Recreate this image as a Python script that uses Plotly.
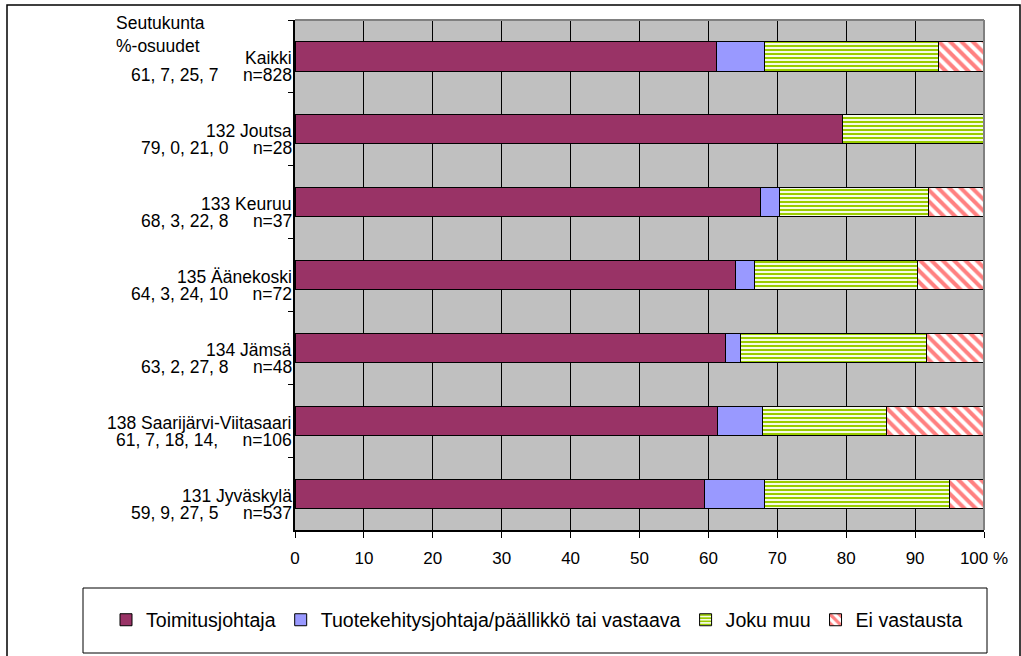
import plotly.graph_objects as go

# --- data -------------------------------------------------------------
categories = [
    "Kaikki",
    "132 Joutsa",
    "133 Keuruu",
    "135 Äänekoski",
    "134 Jämsä",
    "138 Saarijärvi-Viitasaari",
    "131 Jyväskylä",
]
pct_labels = [
    "61, 7, 25, 7",
    "79, 0, 21, 0",
    "68, 3, 22, 8",
    "64, 3, 24, 10",
    "63, 2, 27, 8",
    "61, 7, 18, 14,",
    "59, 9, 27, 5",
]
n_values = [828, 28, 37, 72, 48, 106, 537]

toimitusjohtaja = [61.2, 79.4, 67.6, 63.9, 62.5, 61.3, 59.4]
tuotekehitys = [7.0, 0.0, 2.7, 2.8, 2.1, 6.6, 8.8]
joku_muu = [25.2, 20.6, 21.6, 23.6, 27.1, 17.9, 26.8]
ei_vastausta = [6.6, 0.0, 8.1, 9.7, 8.3, 14.2, 5.0]

x_ticks = list(range(0, 101, 10))
x_ticktext = [str(v) for v in x_ticks[:-1]] + ["100 %"]

# --- geometry helpers (pixel -> paper) ---------------------------------
W, H = 1021, 656
L, R, T, B = 295, 984, 20, 530


def px(x):
    return (x - L) / (R - L)


def py(y):
    return (B - y) / (B - T)


FONT = "Arial, Liberation Sans, sans-serif"
NBSP = "\u00a0"
LABEL_SIZE = 17.5

fig = go.Figure()

series = [
    ("Toimitusjohtaja", toimitusjohtaja, dict(color="#993366")),
    ("Tuotekehitysjohtaja/päällikkö tai vastaava", tuotekehitys, dict(color="#9999FF")),
    ("Joku muu", joku_muu, dict(
        color="#99CC00",
        pattern=dict(shape="-", fgcolor="#99CC00", bgcolor="#FFFFFF",
                     size=4, solidity=0.55, fillmode="replace"),
    )),
    ("Ei vastausta", ei_vastausta, dict(
        color="#FF8080",
        pattern=dict(shape="\\", fgcolor="#FF8080", bgcolor="#FFFFFF",
                     size=8, solidity=0.5, fillmode="replace"),
    )),
]

for name, vals, mk in series:
    fig.add_trace(go.Bar(
        y=categories,
        x=vals,
        name=name,
        orientation="h",
        marker=dict(line=dict(color="black", width=1), **mk),
        hovertemplate="%{y}: %{x:.1f} %<extra>" + name + "</extra>",
    ))

# category labels (two lines, right aligned against the axis)
annotations = []
for cat, pct, n in zip(categories, pct_labels, n_values):
    annotations.append(dict(
        x=0, xref="paper", xanchor="right", xshift=-1,
        y=cat, yref="y", yanchor="middle", yshift=-2,
        text=cat, showarrow=False,
        font=dict(family=FONT, size=LABEL_SIZE, color="black"),
    ))
    annotations.append(dict(
        x=0, xref="paper", xanchor="right", xshift=-1,
        y=cat, yref="y", yanchor="middle", yshift=-19,
        text=f"{pct}{NBSP * 5}n={n}", showarrow=False,
        font=dict(family=FONT, size=LABEL_SIZE, color="black"),
    ))

annotations.append(dict(
    x=px(114), xref="paper", xanchor="left",
    y=py(11), yref="paper", yanchor="top",
    text="Seutukunta<br>%-osuudet", align="left", showarrow=False,
    font=dict(family=FONT, size=LABEL_SIZE, color="black"),
))

shapes = [
    # outer chart frame
    dict(type="rect", xref="paper", yref="paper",
         x0=px(7), x1=px(1020), y0=py(670), y1=py(5),
         line=dict(color="black", width=1.5), layer="above"),
    # legend frame
    dict(type="rect", xref="paper", yref="paper",
         x0=px(83), x1=px(987), y0=py(653), y1=py(588),
         line=dict(color="black", width=1), layer="above"),
    # plot area border (top / right)
    dict(type="line", xref="paper", yref="paper",
         x0=0, x1=1, y0=1, y1=1, line=dict(color="#808080", width=2), layer="above"),
    dict(type="line", xref="paper", yref="paper",
         x0=1, x1=1, y0=0, y1=1, line=dict(color="#808080", width=2), layer="above"),
]

fig.update_layout(
    barmode="stack",
    bargap=0.6,
    width=W,
    height=H,
    margin=dict(l=L, r=W - R, t=T, b=H - B, pad=0, autoexpand=False),
    plot_bgcolor="#C0C0C0",
    paper_bgcolor="white",
    font=dict(family=FONT, size=LABEL_SIZE, color="black"),
    annotations=annotations,
    shapes=shapes,
    legend=dict(
        orientation="h",
        x=px(106), xanchor="left",
        y=py(620), yanchor="middle",
        bgcolor="rgba(0,0,0,0)",
        font=dict(family=FONT, size=19.6, color="black"),
        traceorder="normal",
    ),
    xaxis=dict(
        range=[0, 100],
        tickvals=x_ticks,
        ticktext=x_ticktext,
        showgrid=True, gridcolor="black", gridwidth=1,
        showline=True, linecolor="black", linewidth=1.5,
        ticks="outside", ticklen=6, tickcolor="black",
        ticklabelstandoff=6,
        zeroline=False,
        tickfont=dict(family=FONT, size=17, color="black"),
    ),
    yaxis=dict(
        type="category",
        categoryorder="array",
        categoryarray=categories,
        autorange="reversed",
        showticklabels=False,
        tickson="boundaries",
        ticks="outside", ticklen=5, tickcolor="black",
        showgrid=False,
        showline=True, linecolor="black", linewidth=1.5,
    ),
)

# drop the browser's default body margin so page pixels equal figure pixels
fig.write_html(
    "out.html",
    config={"displayModeBar": False},
    post_script="document.body.style.margin = '0';",
)
